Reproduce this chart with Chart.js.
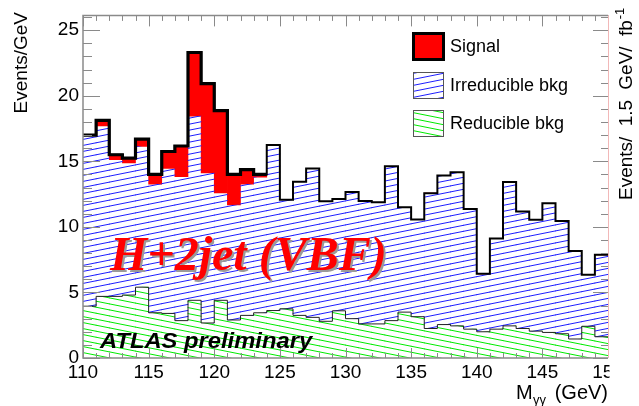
<!DOCTYPE html>
<html>
<head>
<meta charset="utf-8">
<script src="https://cdn.jsdelivr.net/npm/chart.js@4.4.1/dist/chart.umd.min.js"></script>
<style>
  html, body { margin: 0; padding: 0; background: #fff; }
  canvas { display: block; }
</style>
</head>
<body>
<canvas id="chart" width="639" height="406"></canvas>
<script>
(function () {
  "use strict";

  // ---------- data (events / GeV, 1 GeV bins) ----------
  const massLow = [110, 111, 112, 113, 114, 115, 116, 117, 118, 119,
                   120, 121, 122, 123, 124, 125, 126, 127, 128, 129,
                   130, 131, 132, 133, 134, 135, 136, 137, 138, 139,
                   140, 141, 142, 143, 144, 145, 146, 147, 148, 149];
  const binWidth = 1;
  const reducible = [3.95, 4.7, 4.7, 4.8, 5.4, 3.45, 3.4, 2.85, 4.4, 2.67,
                     4.4, 2.9, 3.25, 3.45, 3.62, 3.75, 3.25, 3.1, 2.8, 3.6,
                     3.0, 2.6, 2.6, 2.85, 3.5, 3.15, 2.25, 2.55, 2.45, 2.2,
                     2.0, 2.2, 2.45, 2.25, 2.05, 1.95, 1.85, 1.45, 2.42, 1.62];
  const irreducible = [13.05, 13.0, 10.42, 10.08, 10.73, 9.8, 11.05, 10.98, 14.05, 11.45,
                       8.2, 8.77, 10.0, 10.35, 12.63, 8.32, 10.2, 11.35, 9.15, 8.52,
                       9.67, 9.37, 9.27, 11.77, 8.0, 7.42, 10.32, 11.37, 11.72, 9.17,
                       4.42, 6.92, 10.97, 8.92, 8.5, 9.85, 8.6, 6.72, 3.93, 6.25];
  const signal = [0, 0.42, 0.38, 0.37, 0.57, 0.75, 1.3, 2.34, 4.85, 6.8,
                  6.27, 2.33, 1.12, 0.2, 0, 0, 0, 0, 0, 0,
                  0, 0, 0, 0, 0, 0, 0, 0, 0, 0,
                  0, 0, 0, 0, 0, 0, 0, 0, 0, 0];
  const xTicks = [110, 115, 120, 125, 130, 135, 140, 145, 150];
  const yTicks = [0, 5, 10, 15, 20, 25];
  const seriesNames = ["Signal", "Irreducible bkg", "Reducible bkg"];

  const FONT = "'Liberation Sans', Arial, Helvetica, sans-serif";
  const canvas = document.getElementById("chart");
  const ctx0 = canvas.getContext("2d");

  function hatch(color, rising) {
    const c = document.createElement("canvas");
    c.width = 30; c.height = 6;
    const g = c.getContext("2d");
    g.strokeStyle = color; g.lineWidth = 1;
    g.beginPath();
    for (let k = -1; k <= 1; k++) {
      const o = k * 6;
      if (rising) { g.moveTo(0, 6 + o); g.lineTo(30, o); }
      else { g.moveTo(0, o); g.lineTo(30, 6 + o); }
    }
    g.stroke();
    return ctx0.createPattern(c, "repeat");
  }
  const bluePat = hatch("rgb(30,30,255)", true);
  const greenPat = hatch("rgb(0,235,0)", false);

  const bars = (arr) => arr.map((v, i) => ({ x: massLow[i] + binWidth / 2, y: v }));
  const total = massLow.map((m, i) => reducible[i] + irreducible[i] + signal[i]);
  const stepLine = (arr, from, to) => {
    const pts = [];
    for (let i = from; i <= to; i++) pts.push({ x: massLow[i], y: arr[i] });
    pts.push({ x: massLow[to] + binWidth, y: arr[to] });
    return pts;
  };
  const lastSig = signal.reduce((a, v, i) => (v > 0 ? i : a), 0);

  /* ---------- decorations: ticks, frame, legend, texts ---------- */
  const decor = {
    id: "decor",
    afterDatasetsDraw(chart) {
      const { ctx, chartArea: a, scales: { x, y } } = chart;
      ctx.save();
      ctx.strokeStyle = "#8a8a8a"; ctx.lineWidth = 1;
      ctx.beginPath();
      for (let m = x.min; m <= x.max; m++) {
        const px = Math.round(x.getPixelForValue(m)) + 0.5;
        const major = xTicks.includes(m);
        ctx.moveTo(px, a.bottom); ctx.lineTo(px, a.bottom - (major ? 10 : 5));
        ctx.moveTo(px, a.top); ctx.lineTo(px, a.top + (major ? 11 : 5.5));
      }
      for (let v = 0; v <= y.max; v++) {
        const py = Math.round(y.getPixelForValue(v)) + 0.5;
        const major = yTicks.includes(v);
        ctx.moveTo(a.left, py); ctx.lineTo(a.left + (major ? 17 : 9), py);
        ctx.moveTo(a.right, py); ctx.lineTo(a.right - (major ? 15 : 7), py);
      }
      ctx.stroke();
      ctx.lineWidth = 1.5;
      ctx.beginPath();
      ctx.moveTo(a.right, a.top); ctx.lineTo(a.left, a.top); ctx.lineTo(a.left, a.bottom); ctx.lineTo(a.right, a.bottom);
      ctx.stroke();

      // legend
      const fills = ["#ff0000", bluePat, greenPat];
      const boxY = [33, 72, 110];
      ctx.font = "18px " + FONT;
      ctx.textBaseline = "alphabetic"; ctx.textAlign = "left";
      seriesNames.forEach((name, i) => {
        ctx.fillStyle = "#fff"; ctx.fillRect(413, boxY[i], 31, 27);
        ctx.fillStyle = fills[i]; ctx.fillRect(413, boxY[i], 31, 27);
        ctx.strokeStyle = i === 0 ? "#000" : "#555";
        ctx.lineWidth = i === 0 ? 3 : 1;
        ctx.strokeRect(413.5, boxY[i] + 0.5, 30, 26);
        ctx.fillStyle = "#000";
        ctx.fillText(name, 450, boxY[i] + 19);
      });

      // H+2jet (VBF)
      ctx.font = "bold italic 48px 'Liberation Serif', 'Times New Roman', serif";
      ctx.fillStyle = "#9a9a9a";
      ctx.fillText("H+2jet (VBF)", 112, 272);
      ctx.fillStyle = "#ff0000";
      ctx.fillText("H+2jet (VBF)", 110, 270);

      // ATLAS preliminary
      ctx.save();
      ctx.font = "bold italic 22px " + FONT;
      ctx.fillStyle = "#000";
      ctx.translate(100, 348); ctx.scale(1.08, 1);
      ctx.fillText("ATLAS preliminary", 0, 0);
      ctx.restore();
      ctx.restore();
    },
    afterDraw(chart) {
      const { ctx, chartArea: a } = chart;
      ctx.save();
      // neighbouring pad cuts the plot off on the right
      ctx.fillStyle = "#fff";
      ctx.fillRect(a.right + 1.5, 0, chart.width - a.right, chart.height);
      ctx.strokeStyle = "#f2b8b8"; ctx.lineWidth = 1;
      ctx.beginPath(); ctx.moveTo(a.right + 0.5, a.top); ctx.lineTo(a.right + 0.5, a.bottom); ctx.stroke();

      ctx.fillStyle = "#000";
      // y title
      ctx.save();
      ctx.font = "19px " + FONT;
      ctx.translate(27, 12); ctx.rotate(-Math.PI / 2);
      ctx.textAlign = "right";
      ctx.fillText("Events/GeV", 0, 0);
      ctx.restore();
      // right pad y title (cut off by the image edge)
      ctx.save();
      ctx.font = "19px " + FONT;
      if ("wordSpacing" in ctx) ctx.wordSpacing = "5px";
      ctx.translate(632, 200); ctx.rotate(-Math.PI / 2);
      ctx.textAlign = "left";
      ctx.fillText("Events/ 1.5 GeV/ fb", 0, 0);
      const w = ctx.measureText("Events/ 1.5 GeV/ fb").width;
      ctx.font = "13px " + FONT;
      ctx.fillText("-1", w + 1, -8);
      ctx.restore();
      // x title
      ctx.font = "20px " + FONT;
      ctx.textAlign = "left";
      ctx.fillText("M", 516, 399);
      ctx.font = "13px " + FONT;
      ctx.fillText("\u03b3\u03b3", 533, 404);
      ctx.font = "20px " + FONT;
      ctx.textAlign = "right";
      ctx.fillText("(GeV)", 608, 399);
      ctx.restore();
    }
  };

  new Chart(canvas, {
    type: "bar",
    data: {
      datasets: [
        { type: "line", label: "total-signal", stack: "l1", order: 0, data: stepLine(total, 0, lastSig),
          borderColor: "#000", borderWidth: 3.2, stepped: true, pointRadius: 0, fill: false },
        { type: "line", label: "total", stack: "l2", order: 0, data: stepLine(total, 0, massLow.length - 1),
          borderColor: "#000", borderWidth: 2, stepped: true, pointRadius: 0, fill: false },
        { type: "line", label: "reducible-edge", stack: "l3", order: 0, data: stepLine(reducible, 0, massLow.length - 1),
          borderColor: "#222", borderWidth: 1, stepped: true, pointRadius: 0, fill: false },
        { label: seriesNames[2], stack: "s", order: 1, data: bars(reducible), backgroundColor: greenPat },
        { label: seriesNames[1], stack: "s", order: 1, data: bars(irreducible), backgroundColor: bluePat },
        { label: seriesNames[0], stack: "s", order: 1, data: bars(signal), backgroundColor: "#ff0000" }
      ]
    },
    options: {
      responsive: false,
      animation: false,
      devicePixelRatio: 1,
      layout: { padding: { left: 0, top: 10, right: 31, bottom: 0 } },
      datasets: { bar: { barPercentage: 1, categoryPercentage: 1, borderWidth: 0 } },
      plugins: { legend: { display: false }, tooltip: { enabled: false } },
      scales: {
        x: {
          type: "linear", min: 110, max: 150, stacked: true, offset: false,
          grid: { display: false, drawTicks: false }, border: { display: false },
          afterBuildTicks: (s) => { s.ticks = xTicks.map(v => ({ value: v })); },
          afterFit: (s) => { s.height = 48; },
          ticks: { padding: 3, color: "#000", font: { family: FONT, size: 19 }, maxRotation: 0, autoSkip: false }
        },
        y: {
          min: 0, max: 26.13, stacked: true,
          grid: { display: false, drawTicks: false }, border: { display: false },
          afterBuildTicks: (s) => { s.ticks = yTicks.map(v => ({ value: v })); },
          afterFit: (s) => { s.width = 83; },
          ticks: { padding: 4, color: "#000", font: { family: FONT, size: 19 } }
        }
      }
    },
    plugins: [decor]
  });
})();
</script>
</body>
</html>
